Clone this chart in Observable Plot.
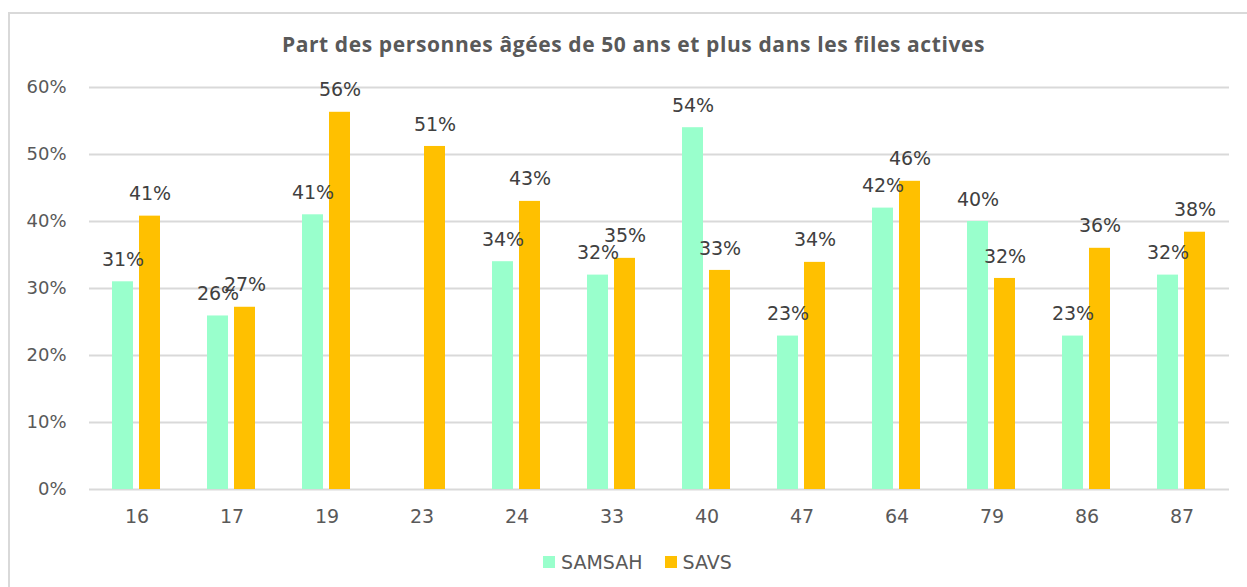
<!DOCTYPE html>
<html>
<head>
<meta charset="utf-8">
<script src="https://cdn.jsdelivr.net/npm/d3@7"></script>
<script src="https://cdn.jsdelivr.net/npm/@observablehq/plot@0.6"></script>
<style>
  html, body { margin: 0; padding: 0; background: #fff; }
  body { width: 1247px; height: 587px; position: relative; overflow: hidden; }
  #frame { position: absolute; left: 8px; top: 12px; right: -10px; bottom: -10px;
           border-left: 2px solid #d9d9d9; border-top: 2px solid #d9d9d9; }
  #title { position: absolute; left: 0; width: 1267px; top: 30px; text-align: center;
           font-family: "Open Sans", sans-serif; font-weight: bold; font-size: 21px;
           letter-spacing: 0.6px; color: #595959; }
  #chart { position: absolute; left: 0; top: 0; }
  #legend { position: absolute; left: 543px; top: 551px; font-family: "DejaVu Sans", sans-serif;
            font-size: 19px; color: #595959; display: flex; align-items: center; }
  .sw { width: 12px; height: 12px; display: inline-block; margin-right: 6px; }
  .item { display: flex; align-items: center; margin-right: 22px; }
</style>
</head>
<body>
<div id="frame"></div>
<div id="title">Part des personnes âgées de 50 ans et plus dans les files actives</div>
<div id="chart"></div>
<div id="legend"></div>
<script>
const categories = ["16", "17", "19", "23", "24", "33", "40", "47", "64", "79", "86", "87"];
const seriesNames = ["SAMSAH", "SAVS"];
const samsah = [31.0, 25.9, 41.0, null, 34.0, 32.0, 54.0, 22.9, 42.0, 40.0, 22.9, 32.0];
const savs = [40.8, 27.2, 56.3, 51.2, 43.0, 34.5, 32.7, 33.9, 46.0, 31.5, 36.0, 38.4];
const colors = ["#99FFCC", "#FFC000"];
const yTicks = [0, 10, 20, 30, 40, 50, 60];

const data = [];
categories.forEach((c, i) => {
  if (samsah[i] != null) data.push({cat: c, series: "SAMSAH", value: samsah[i]});
  if (savs[i] != null) data.push({cat: c, series: "SAVS", value: savs[i]});
});

const chart = Plot.plot({
  width: 1247,
  height: 540,
  marginTop: 87,
  marginBottom: 51,
  marginLeft: 89,
  marginRight: 18,
  style: {fontFamily: "DejaVu Sans, sans-serif", color: "#595959", background: "transparent"},
  fx: {domain: categories, padding: 0, label: null},
  x: {domain: seriesNames, paddingInner: 0.222, paddingOuter: 0.87, axis: null},
  y: {domain: [0, 60], label: null},
  color: {domain: seriesNames, range: colors},
  marks: [
    Plot.ruleY(yTicks, {stroke: "#d9d9d9", strokeWidth: 2}),
    Plot.axisY(yTicks, {tickSize: 0, tickPadding: 23, fontSize: 18, tickFormat: d => d + "%", label: null}),
    Plot.axisFx({anchor: "bottom", tickSize: 0, tickPadding: 20, fontSize: 19, label: null}),
    Plot.barY(data, {fx: "cat", x: "series", y: "value", fill: "series"}),
    Plot.text(data, {fx: "cat", x: "series", y: "value", text: d => Math.round(d.value) + "%",
      dy: -22, fontSize: 19, fill: "#404040"})
  ]
});
document.getElementById("chart").appendChild(chart);

const legend = document.getElementById("legend");
seriesNames.forEach((s, i) => {
  const item = document.createElement("div");
  item.className = "item";
  const sw = document.createElement("span");
  sw.className = "sw";
  sw.style.background = colors[i];
  item.appendChild(sw);
  item.appendChild(document.createTextNode(s));
  legend.appendChild(item);
});
</script>
</body>
</html>
